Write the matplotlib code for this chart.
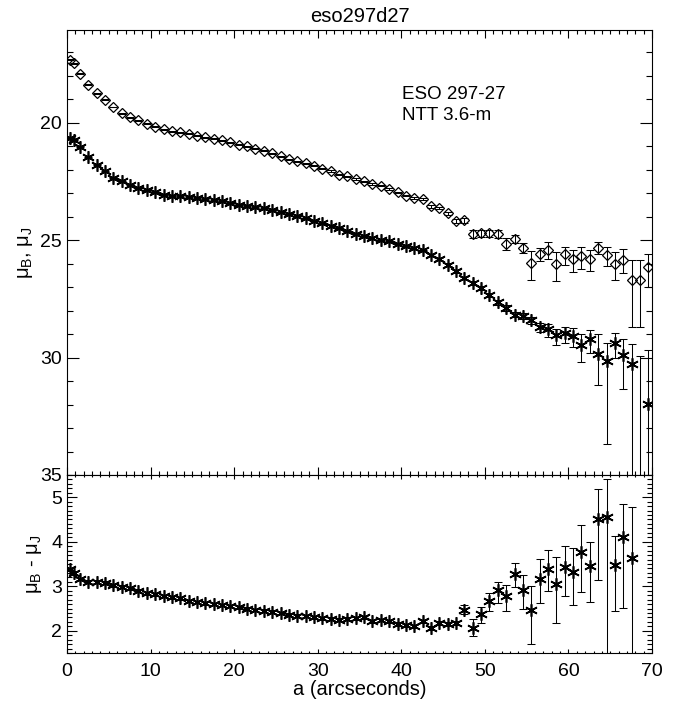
import numpy as np
import matplotlib
matplotlib.use("Agg")
import matplotlib.pyplot as plt
from matplotlib.ticker import MultipleLocator

plt.rcParams['font.family'] = ['Liberation Sans', 'DejaVu Sans']
plt.rcParams['mathtext.fontset'] = 'custom'
plt.rcParams['mathtext.rm'] = 'Liberation Sans'
plt.rcParams['mathtext.it'] = 'Liberation Sans'
plt.rcParams['axes.linewidth'] = 0.8

# semi-major axis (arcsec)
radius = [0.35, 0.85, 1.55, 2.55, 3.55, 4.55, 5.55, 6.55, 7.55, 8.55,
          9.55, 10.55, 11.55, 12.55, 13.55, 14.55, 15.55, 16.55, 17.55, 18.55,
          19.55, 20.55, 21.55, 22.55, 23.55, 24.55, 25.55, 26.55, 27.55, 28.55,
          29.55, 30.55, 31.55, 32.55, 33.55, 34.55, 35.55, 36.55, 37.55, 38.55,
          39.55, 40.55, 41.55, 42.55, 43.55, 44.55, 45.55, 46.55, 47.55, 48.55,
          49.55, 50.55, 51.55, 52.55, 53.55, 54.55, 55.55, 56.55, 57.55, 58.55,
          59.55, 60.55, 61.55, 62.55, 63.55, 64.55, 65.55, 66.55, 67.55, 68.55,
          69.55]

# J profile (diamonds)
mu_j = [17.32, 17.46, 17.91, 18.38, 18.74, 19.02, 19.33, 19.59, 19.76, 19.90,
        20.04, 20.16, 20.27, 20.37, 20.41, 20.47, 20.55, 20.61, 20.69, 20.75,
        20.84, 20.94, 21.01, 21.10, 21.20, 21.29, 21.43, 21.55, 21.65, 21.72,
        21.84, 21.95, 22.05, 22.21, 22.28, 22.40, 22.50, 22.60, 22.68, 22.82,
        22.96, 23.11, 23.21, 23.25, 23.56, 23.63, 23.86, 24.20, 24.16, 24.72,
        24.69, 24.69, 24.72, 25.16, 24.95, 25.33, 25.97, 25.57, 25.40, 26.00,
        25.57, 25.79, 25.69, 25.80, 25.33, 25.62, 26.00, 25.83, 26.68, 26.68,
        26.14]
mu_j_err_up = [0.02] * 31 + [0.03] * 13 + [0.05, 0.05, 0.06, 0.08, 0.10,
               0.14, 0.14, 0.14, 0.14, 0.26, 0.19, 0.23, 0.50, 0.24, 0.31,
               0.48, 0.28, 0.38, 0.40, 0.40, 0.27, 0.35, 0.48, 0.45, 0.83,
               0.85, 0.57]
mu_j_err_dn = [0.02] * 31 + [0.03] * 13 + [0.05, 0.05, 0.06, 0.08, 0.10,
               0.18, 0.18, 0.18, 0.20, 0.26, 0.19, 0.23, 0.71, 0.33, 0.40,
               0.75, 0.47, 0.58, 0.54, 0.52, 0.27, 0.50, 0.68, 0.57, 2.02,
               2.00, 0.84]

# B profile (asterisks)
mu_b = [20.65, 20.72, 21.03, 21.46, 21.79, 22.07, 22.35, 22.50, 22.64, 22.78,
        22.88, 22.96, 23.06, 23.11, 23.13, 23.16, 23.21, 23.25, 23.31, 23.35,
        23.42, 23.49, 23.53, 23.60, 23.65, 23.72, 23.80, 23.88, 23.97, 24.06,
        24.17, 24.28, 24.39, 24.48, 24.62, 24.72, 24.84, 24.91, 24.98, 25.05,
        25.15, 25.23, 25.33, 25.43, 25.62, 25.80, 26.04, 26.33, 26.61, 26.82,
        27.04, 27.32, 27.65, 27.89, 28.17, 28.24, 28.42, 28.68, 28.80, 29.02,
        28.95, 29.06, 29.45, 29.23, 29.83, 30.16, 29.40, 29.87, 30.26, 37.00,
        31.96]
mu_b_err_up = [0.02] * 31 + [0.03] * 13 + [0.04, 0.04, 0.05, 0.05, 0.06,
               0.07, 0.08, 0.09, 0.10, 0.11, 0.12, 0.12, 0.15, 0.17, 0.21,
               0.23, 0.26, 0.33, 0.47, 0.40, 0.82, 0.78, 0.45, 0.64, 0.83,
               7.07, 2.30]
mu_b_err_dn = [0.02] * 31 + [0.03] * 13 + [0.04, 0.04, 0.05, 0.05, 0.06,
               0.07, 0.08, 0.09, 0.10, 0.11, 0.12, 0.12, 0.15, 0.23, 0.31,
               0.45, 0.45, 0.48, 0.75, 0.57, 1.33, 3.50, 0.60, 1.45, 6.00,
               1.00, 5.00]

# colour B - J
color = [3.39, 3.29, 3.16, 3.10, 3.10, 3.08, 3.02, 2.99, 2.95, 2.90,
         2.84, 2.82, 2.78, 2.75, 2.73, 2.67, 2.65, 2.62, 2.60, 2.58,
         2.56, 2.53, 2.50, 2.47, 2.45, 2.43, 2.40, 2.36, 2.34, 2.33,
         2.30, 2.28, 2.27, 2.25, 2.27, 2.28, 2.30, 2.21, 2.24, 2.21,
         2.15, 2.12, 2.10, 2.21, 2.06, 2.17, 2.15, 2.17, 2.47, 2.07,
         2.37, 2.67, 2.91, 2.78, 3.28, 2.91, 2.47, 3.17, 3.39, 3.06,
         3.43, 3.32, 3.78, 3.45, 4.52, 4.56, 3.47, 4.10, 3.63]
color_err_hi = [0.03] * 40 + [0.04] * 8 + [0.10, 0.19, 0.17, 0.17, 0.19,
                0.25, 0.24, 0.35, 0.54, 0.44, 0.43, 0.59, 0.47, 0.53, 0.59,
                0.55, 0.67, 0.84, 0.65, 0.74, 1.16]
color_err_lo = [0.03] * 40 + [0.04] * 8 + [0.10, 0.18, 0.20, 0.22, 0.28,
                0.34, 0.30, 0.41, 0.76, 0.54, 0.50, 0.89, 0.64, 0.75, 0.90,
                0.81, 1.39, 3.50, 1.02, 1.58, 3.00]

x = np.array(radius)
star = (6, 2, 0)

fig = plt.figure(figsize=(6.75, 7.04), dpi=100)
ax1 = fig.add_axes([0.0993, 0.3253, 0.8667, 0.6321])
ax2 = fig.add_axes([0.0993, 0.0724, 0.8667, 0.2529], sharex=ax1)

ebkw = dict(fmt='none', ecolor='k', elinewidth=0.75, capsize=2.8, capthick=0.75)

ax1.errorbar(x, mu_j, yerr=[mu_j_err_up, mu_j_err_dn], **ebkw)
ax1.plot(x, mu_j, ls='none', marker='D', ms=5.2, mfc='none', mec='k', mew=0.9)
ax1.errorbar(x, mu_b, yerr=[mu_b_err_up, mu_b_err_dn], **ebkw)
ax1.plot(x, mu_b, ls='none', marker=star, ms=9, mec='k', mew=1.2)

ax1.set_xlim(0, 70)
ax1.set_ylim(35, 16.05)
ax1.set_title('eso297d27', fontsize=14.5, pad=6)
ax1.set_ylabel('μ$_{\\rm B}$, μ$_{\\rm J}$', fontsize=14.5, labelpad=4)
ax1.text(40.1, 19.0, 'ESO 297-27', fontsize=13.5)
ax1.text(40.1, 19.87, 'NTT 3.6-m', fontsize=13.5)
ax1.yaxis.set_major_locator(MultipleLocator(5))
ax1.yaxis.set_minor_locator(MultipleLocator(1))
ax1.tick_params(axis='x', which='major', length=5.8, labelbottom=False)
ax1.tick_params(axis='x', which='minor', length=2.9)
ax1.tick_params(axis='y', which='major', length=8.6)
ax1.tick_params(axis='y', which='minor', length=4.3)

n = len(color)
ax2.errorbar(x[:n], color, yerr=[color_err_lo, color_err_hi], **ebkw)
ax2.plot(x[:n], color, ls='none', marker=star, ms=9, mec='k', mew=1.2)
ax2.set_ylim(1.5, 5.5)
ax2.set_xlabel('a (arcseconds)', fontsize=14.5, labelpad=0)
ax2.set_ylabel('μ$_{\\rm B}$ - μ$_{\\rm J}$', fontsize=14.5, labelpad=5)
ax2.yaxis.set_major_locator(MultipleLocator(1))
ax2.yaxis.set_minor_locator(MultipleLocator(0.1))
ax2.tick_params(axis='x', which='major', length=3.0, pad=7)
ax2.tick_params(axis='x', which='minor', length=1.5)
ax2.tick_params(axis='y', which='major', length=7.2)
ax2.tick_params(axis='y', which='minor', length=3.6)

ax1.xaxis.set_major_locator(MultipleLocator(10))
ax1.xaxis.set_minor_locator(MultipleLocator(1))
for ax in (ax1, ax2):
    ax.tick_params(which='both', direction='in', top=True, right=True,
                   width=0.8, labelsize=14)

fig.savefig('out.png', dpi=100)
